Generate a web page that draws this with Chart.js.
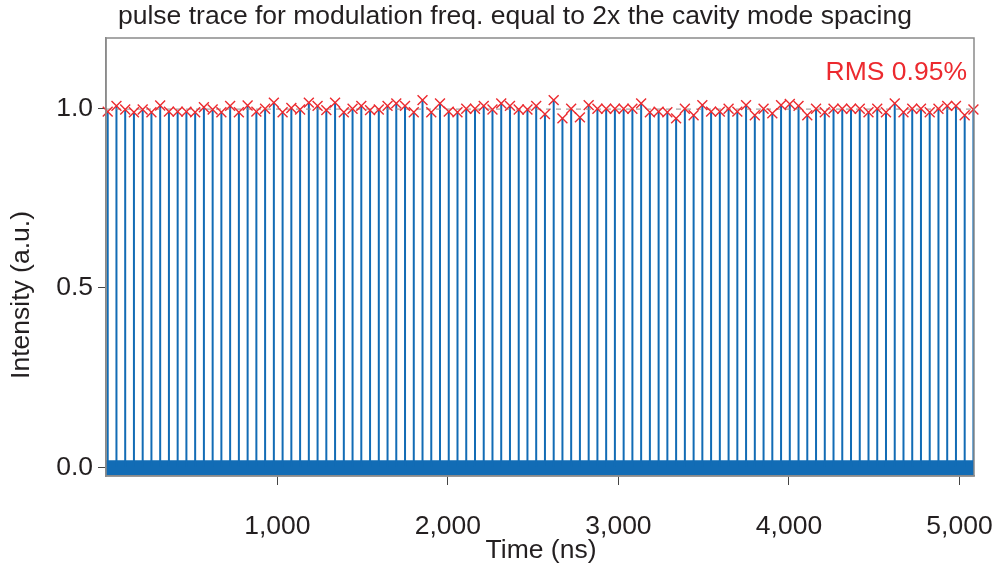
<!DOCTYPE html>
<html>
<head>
<meta charset="utf-8">
<script src="https://cdn.jsdelivr.net/npm/chart.js@4.4.1/dist/chart.umd.min.js"></script>
<style>
  body { margin: 0; background: #fff; }
  canvas { display: block; }
</style>
</head>
<body>
<canvas id="traceChart" width="995" height="567"></canvas>
<script>
// pulse arrival times (ns)
const pulseTimes = [
  5.0, 56.3, 107.6, 158.8, 210.1, 261.4, 312.7, 364.0, 415.2, 466.5,
  517.8, 569.1, 620.4, 671.6, 722.9, 774.2, 825.5, 876.8, 928.0, 979.3,
  1030.6, 1081.9, 1133.2, 1184.4, 1235.7, 1287.0, 1338.3, 1389.6, 1440.8, 1492.1,
  1543.4, 1594.7, 1646.0, 1697.2, 1748.5, 1799.8, 1851.1, 1902.4, 1953.6, 2004.9,
  2056.2, 2107.5, 2158.8, 2210.0, 2261.3, 2312.6, 2363.9, 2415.2, 2466.4, 2517.7,
  2569.0, 2620.3, 2671.6, 2722.8, 2774.1, 2825.4, 2876.7, 2928.0, 2979.2, 3030.5,
  3081.8, 3133.1, 3184.4, 3235.6, 3286.9, 3338.2, 3389.5, 3440.8, 3492.0, 3543.3,
  3594.6, 3645.9, 3697.2, 3748.4, 3799.7, 3851.0, 3902.3, 3953.6, 4004.8, 4056.1,
  4107.4, 4158.7, 4210.0, 4261.2, 4312.5, 4363.8, 4415.1, 4466.4, 4517.6, 4568.9,
  4620.2, 4671.5, 4722.8, 4774.0, 4825.3, 4876.6, 4927.9, 4979.2, 5030.4, 5081.7
];

// peak intensity of each pulse (a.u.)
const pulsePeaks = [
  0.991, 1.007, 0.997, 0.989, 0.997, 0.989, 1.008, 0.991, 0.991, 0.991,
  0.989, 1.003, 0.997, 0.989, 1.007, 0.989, 1.008, 0.991, 0.999, 1.016,
  0.989, 1.001, 0.997, 1.016, 1.007, 0.995, 1.016, 0.989, 0.999, 1.007,
  0.995, 0.997, 1.007, 1.014, 1.007, 0.989, 1.023, 0.989, 1.014, 0.991,
  0.989, 0.999, 0.999, 1.007, 0.997, 1.014, 1.007, 0.997, 0.997, 1.007,
  0.984, 1.023, 0.972, 0.999, 0.975, 1.009, 0.999, 0.999, 0.999, 0.999,
  0.999, 1.014, 0.989, 0.991, 0.989, 0.972, 0.999, 0.981, 1.009, 0.991,
  0.991, 0.999, 0.991, 1.009, 0.981, 0.999, 0.986, 1.009, 1.012, 1.007,
  0.981, 0.999, 0.989, 0.999, 0.999, 0.999, 0.999, 0.989, 0.999, 0.989,
  1.014, 0.989, 0.999, 0.999, 0.989, 0.999, 1.007, 1.007, 0.981, 0.997
];

// baseline noise envelope and mean peak level
const noiseLow = -0.021;
const noiseHigh = 0.02;
const meanLevel = 0.998;

const xRange = [-5, 5085];
const yRange = [-0.024, 1.196];
const xTicks = [1000, 2000, 3000, 4000, 5000];
const yTicks = [0, 0.5, 1.0];

const chartTitle = 'pulse trace for modulation freq. equal to 2x the cavity mode spacing';
const xTitle = 'Time (ns)';
const yTitle = 'Intensity (a.u.)';
const rmsLabel = 'RMS 0.95%';

const blue = '#126cb5';
const red = '#ec2a2f';
const ink = '#231f20';
const fontFamily = '"Liberation Sans", Arial, sans-serif';
const fontSize = 26.5;

// trace: each pulse goes up from the baseline to its peak and back
let trace = [];
pulseTimes.forEach(function (t, i) {
  trace.push({x: t, y: 0});
  trace.push({x: t, y: pulsePeaks[i]});
  trace.push({x: t, y: 0});
});
let peaks = pulseTimes.map(function (t, i) { return {x: t, y: pulsePeaks[i]}; });

const textPlugin = {
  id: 'texts',
  afterDraw: function (chart) {
    const ctx = chart.ctx;
    const a = chart.chartArea;
    ctx.save();
    // frame
    ctx.strokeStyle = '#8a8a8a';
    ctx.lineWidth = 1.5;
    ctx.strokeRect(a.left, a.top, a.right - a.left, a.bottom - a.top);

    ctx.fillStyle = ink;
    ctx.textBaseline = 'middle';
    ctx.font = fontSize + 'px ' + fontFamily;
    ctx.textAlign = 'left';
    ctx.fillText(chartTitle, 118, 17);

    ctx.textAlign = 'center';
    ctx.fillText(xTitle, 541, 551);

    ctx.translate(22, 295);
    ctx.rotate(-Math.PI / 2);
    ctx.fillText(yTitle, 0, 0);
    ctx.restore();

    ctx.save();
    ctx.fillStyle = red;
    ctx.font = fontSize + 'px ' + fontFamily;
    ctx.textAlign = 'right';
    ctx.textBaseline = 'middle';
    ctx.fillText(rmsLabel, 967, 73);
    ctx.restore();
  }
};

new Chart(document.getElementById('traceChart'), {
  type: 'scatter',
  data: {
    datasets: [
      {
        label: 'peaks',
        data: peaks,
        showLine: false,
        pointStyle: 'crossRot',
        pointRadius: 7,
        pointBorderWidth: 1.4,
        pointBorderColor: red,
        pointBackgroundColor: red,
        clip: false,
        order: 0
      },
      {
        label: 'mean',
        data: [{x: xRange[0], y: meanLevel}, {x: xRange[1], y: meanLevel}],
        showLine: true,
        borderColor: '#8c8c8c',
        borderWidth: 1,
        borderDash: [5, 5],
        pointRadius: 0,
        order: 1
      },
      {
        label: 'trace',
        data: trace,
        showLine: true,
        borderColor: blue,
        borderWidth: 2,
        pointRadius: 0,
        tension: 0,
        order: 2
      },
      {
        label: 'noise',
        data: [{x: xRange[0], y: noiseHigh}, {x: xRange[1], y: noiseHigh}],
        showLine: true,
        borderWidth: 0,
        borderColor: blue,
        backgroundColor: blue,
        pointRadius: 0,
        fill: {target: {value: noiseLow}},
        order: 3
      }
    ]
  },
  options: {
    responsive: false,
    animation: false,
    events: [],
    layout: {padding: {top: 38, right: 21, left: 0, bottom: 0}},
    plugins: {
      legend: {display: false},
      tooltip: {enabled: false},
      title: {display: false}
    },
    scales: {
      x: {
        type: 'linear',
        min: xRange[0],
        max: xRange[1],
        afterBuildTicks: function (s) { s.ticks = xTicks.map(function (v) { return {value: v}; }); },
        afterFit: function (s) { s.height = 91; s.paddingLeft = 0; s.paddingRight = 0; },
        grid: {drawOnChartArea: false, drawTicks: true, tickLength: 9, tickColor: '#444', tickWidth: 1},
        border: {display: true, color: '#8a8a8a', width: 1.5},
        ticks: {
          color: ink,
          font: {family: fontFamily, size: fontSize},
          padding: 26,
          maxRotation: 0,
          callback: function (v) { return v.toLocaleString('en-US'); }
        }
      },
      y: {
        type: 'linear',
        min: yRange[0],
        max: yRange[1],
        afterBuildTicks: function (s) { s.ticks = yTicks.map(function (v) { return {value: v}; }); },
        afterFit: function (s) { s.width = 106; s.paddingTop = 0; s.paddingBottom = 0; },
        grid: {drawOnChartArea: false, drawTicks: true, tickLength: 8, tickColor: '#444', tickWidth: 1},
        border: {display: true, color: '#8a8a8a', width: 1.5},
        ticks: {
          color: ink,
          font: {family: fontFamily, size: fontSize},
          padding: 5,
          callback: function (v) { return v.toFixed(1); }
        }
      }
    }
  },
  plugins: [textPlugin]
});
</script>
</body>
</html>
